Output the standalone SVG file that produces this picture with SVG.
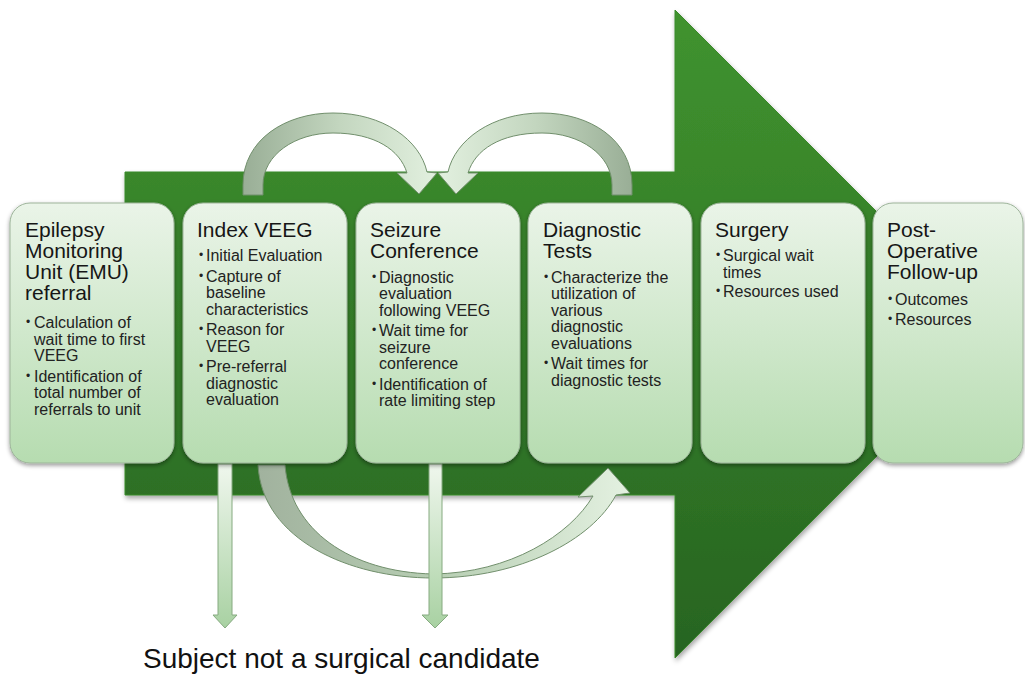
<svg xmlns="http://www.w3.org/2000/svg" width="1025" height="677" viewBox="0 0 1025 677">
<defs>
<linearGradient id="gBig" x1="0" y1="10" x2="0" y2="658" gradientUnits="userSpaceOnUse">
<stop offset="0" stop-color="#40932f"/>
<stop offset="1" stop-color="#276421"/>
</linearGradient>
<linearGradient id="gBox" x1="0" y1="0" x2="0" y2="1">
<stop offset="0" stop-color="#eaf4e8"/>
<stop offset="1" stop-color="#b6dcb0"/>
</linearGradient>
<linearGradient id="gTop" x1="243" y1="0" x2="437" y2="0" gradientUnits="userSpaceOnUse">
<stop offset="0" stop-color="#99ae96"/>
<stop offset="0.5" stop-color="#c3d6bf"/>
<stop offset="1" stop-color="#e2f0df"/>
</linearGradient>
<linearGradient id="gBot" x1="258" y1="0" x2="630" y2="0" gradientUnits="userSpaceOnUse">
<stop offset="0" stop-color="#a1b29e"/>
<stop offset="0.5" stop-color="#b8cfb4"/>
<stop offset="1" stop-color="#e4f1e1"/>
</linearGradient>
<linearGradient id="gDown" x1="0" y1="463" x2="0" y2="628" gradientUnits="userSpaceOnUse">
<stop offset="0" stop-color="#f0f7ee"/>
<stop offset="1" stop-color="#a8d1a2"/>
</linearGradient>
<filter id="sh" x="-10%" y="-10%" width="120%" height="120%">
<feDropShadow dx="0" dy="2" stdDeviation="2" flood-color="#000" flood-opacity="0.4"/>
</filter>
<filter id="shBig" x="-10%" y="-10%" width="120%" height="120%">
<feDropShadow dx="1" dy="3" stdDeviation="2.5" flood-color="#000" flood-opacity="0.35"/>
</filter>
</defs>
<style>
.box{fill:url(#gBox);stroke:#9db49a;stroke-width:1;filter:url(#sh)}
.ttl{font-family:"Liberation Sans",Arial,sans-serif;font-size:21px;fill:#161616}
.txt{font-family:"Liberation Sans",Arial,sans-serif;font-size:16px;fill:#222}
.bul{font-family:"Liberation Sans",Arial,sans-serif;font-size:12px;fill:#222}
.arr{stroke:#718f6c;stroke-width:1}
.dn{fill:url(#gDown);stroke:#86aa80;stroke-width:1}
</style>
<rect width="1025" height="677" fill="#ffffff"/>
<g id="big-arrow">
<polygon points="125,172 675,172 675,10 999,334 675,658 675,495 125,495" fill="url(#gBig)" stroke="#3a8a2c" stroke-width="1" filter="url(#shBig)"/>
</g>
<g id="connectors">
<path class="arr" fill="url(#gTop)" d="M243,195 L243,185 C243,140 285,113 333,113 C383,113 420,140 427,172 L437,173 L419,194 L397,173 L407,173 C400,150 375,133 333,133 C295,133 263,155 263,185 L263,195 Z"/>
<path class="arr" fill="url(#gTop)" transform="translate(875,0) scale(-1,1)" d="M243,195 L243,185 C243,140 285,113 333,113 C383,113 420,140 427,172 L437,173 L419,194 L397,173 L407,173 C400,150 375,133 333,133 C295,133 263,155 263,185 L263,195 Z"/>
<path class="arr" fill="url(#gBot)" d="M258,465 C262,540 350,578 433,578 C520,578 592,540 616,495 L630,493 L608,468 L578,497 L593,496 C570,535 510,573 433,574 C350,572 290,530 285,465 Z"/>
<path class="dn" d="M218,464 L232,464 L232,615 L237,615 L225,628 L213,615 L218,615 Z"/>
<path class="dn" d="M429,464 L442,464 L442,615 L448,615 L435,628 L422,615 L429,615 Z"/>
</g>
<g id="node-emu">
<rect class="box" x="10" y="203" width="164" height="260" rx="20"/>
<text class="ttl"><tspan x="25" y="237">Epilepsy</tspan><tspan x="25" y="258">Monitoring</tspan><tspan x="25" y="279">Unit (EMU)</tspan><tspan x="25" y="300">referral</tspan></text>
<text class="bul"><tspan x="26" y="326">•</tspan><tspan x="26" y="380">•</tspan></text>
<text class="txt"><tspan x="34" y="328">Calculation of</tspan><tspan x="34" y="344.5">wait time to first</tspan><tspan x="34" y="361">VEEG</tspan><tspan x="34" y="381.5">Identification of</tspan><tspan x="34" y="398">total number of</tspan><tspan x="34" y="414.5">referrals to unit</tspan></text>
</g>
<g id="node-index-veeg">
<rect class="box" x="183" y="203" width="164" height="260" rx="20"/>
<text class="ttl"><tspan x="197" y="237">Index VEEG</tspan></text>
<text class="bul"><tspan x="199" y="259">•</tspan><tspan x="199" y="279.5">•</tspan><tspan x="199" y="333">•</tspan><tspan x="199" y="370">•</tspan></text>
<text class="txt"><tspan x="206" y="261">Initial Evaluation</tspan><tspan x="206" y="281.5">Capture of</tspan><tspan x="206" y="298">baseline</tspan><tspan x="206" y="314.5">characteristics</tspan><tspan x="206" y="335">Reason for</tspan><tspan x="206" y="351.5">VEEG</tspan><tspan x="206" y="372">Pre-referral</tspan><tspan x="206" y="388.5">diagnostic</tspan><tspan x="206" y="405">evaluation</tspan></text>
</g>
<g id="node-seizure-conference">
<rect class="box" x="356" y="203" width="164" height="260" rx="20"/>
<text class="ttl"><tspan x="370" y="237">Seizure</tspan><tspan x="370" y="258">Conference</tspan></text>
<text class="bul"><tspan x="372" y="280.5">•</tspan><tspan x="372" y="334">•</tspan><tspan x="372" y="387.5">•</tspan></text>
<text class="txt"><tspan x="379" y="282.5">Diagnostic</tspan><tspan x="379" y="299">evaluation</tspan><tspan x="379" y="315.5">following VEEG</tspan><tspan x="379" y="336">Wait time for</tspan><tspan x="379" y="352.5">seizure</tspan><tspan x="379" y="369">conference</tspan><tspan x="379" y="389.5">Identification of</tspan><tspan x="379" y="406">rate limiting step</tspan></text>
</g>
<g id="node-diagnostic-tests">
<rect class="box" x="528" y="203" width="164" height="260" rx="20"/>
<text class="ttl"><tspan x="543" y="237">Diagnostic</tspan><tspan x="543" y="258">Tests</tspan></text>
<text class="bul"><tspan x="544" y="280.5">•</tspan><tspan x="544" y="367">•</tspan></text>
<text class="txt"><tspan x="551" y="282.5">Characterize the</tspan><tspan x="551" y="299">utilization of</tspan><tspan x="551" y="315.5">various</tspan><tspan x="551" y="332">diagnostic</tspan><tspan x="551" y="348.5">evaluations</tspan><tspan x="551" y="369">Wait times for</tspan><tspan x="551" y="385.5">diagnostic tests</tspan></text>
</g>
<g id="node-surgery">
<rect class="box" x="701" y="203" width="164" height="260" rx="20"/>
<text class="ttl"><tspan x="715" y="237">Surgery</tspan></text>
<text class="bul"><tspan x="716" y="259">•</tspan><tspan x="716" y="295">•</tspan></text>
<text class="txt"><tspan x="723" y="261">Surgical wait</tspan><tspan x="723" y="277.5">times</tspan><tspan x="723" y="297">Resources used</tspan></text>
</g>
<g id="node-post-op">
<rect class="box" x="873" y="203" width="150" height="260" rx="20"/>
<text class="ttl"><tspan x="887" y="237">Post-</tspan><tspan x="887" y="258">Operative</tspan><tspan x="887" y="279">Follow-up</tspan></text>
<text class="bul"><tspan x="888" y="303">•</tspan><tspan x="888" y="323">•</tspan></text>
<text class="txt"><tspan x="895" y="305">Outcomes</tspan><tspan x="895" y="325">Resources</tspan></text>
</g>
<g id="label-not-candidate">
<text x="143" y="668" font-family="'Liberation Sans',Arial,sans-serif" font-size="28" fill="#111">Subject not a surgical candidate</text>
</g>
</svg>
